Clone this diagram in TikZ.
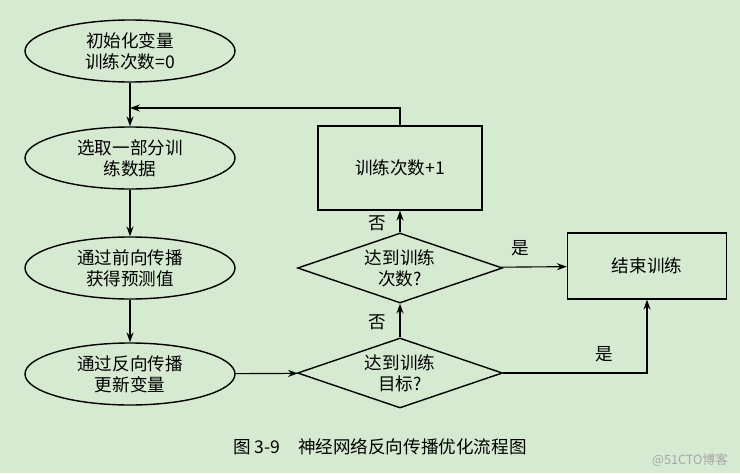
\documentclass[tikz,border=0pt]{standalone}
\usepackage{fontspec}
\setmainfont{Noto Sans CJK SC}
\usetikzlibrary{shapes.geometric,arrows.meta}
\definecolor{paper}{RGB}{214,234,210}
\tikzset{
  box/.style={draw,line width=1pt,minimum width=164*0.025cm,minimum height=84*0.025cm,align=center},
  oval/.style={ellipse,draw,line width=1pt,minimum width=210*0.025cm,minimum height=62*0.025cm,align=center,inner sep=0pt},
  test/.style={diamond,draw,line width=1pt,aspect=2.9,minimum width=205*0.025cm,minimum height=70*0.025cm,align=center,inner sep=0pt},
  flow/.style={-{Stealth[length=7pt,width=5pt]},line width=0.8pt}
}
\begin{document}
\begin{tikzpicture}[x=0.025cm,y=-0.025cm,font=\fontsize{12.5}{15}\selectfont]
\fill[paper] (0,0) rectangle (740,473);
\useasboundingbox (0,0) rectangle (740,473);
% ovals on the left
\node[oval] (init) at (130,51) {初始化变量\\训练次数=0};
\node[oval] (pick) at (130,158) {选取一部分训\\练数据};
\node[oval] (fwd) at (130,268) {通过前向传播\\获得预测值};
\node[oval] (bwd) at (130,374) {通过反向传播\\更新变量};
% tests and boxes
\node[box] (cnt) at (400,168) {训练次数+1};
\node[test] (t1) at (400,268) {达到训练\\次数?};
\node[test] (t2) at (400,373) {达到训练\\目标?};
\node[box,minimum width=159*0.025cm,minimum height=66*0.025cm] (stop) at (647,266) {结束训练};
\coordinate (back) at (130,108);
% connectors
\draw[flow] (init) -- (pick);
\draw[flow] (pick) -- (fwd);
\draw[flow] (fwd) -- (bwd);
\draw[flow] (bwd) -- (t2);
\draw[flow] (t2) -- node[left=6pt,pos=0.45] {否} (t1);
\draw[flow] (t1) -- node[left=6pt,pos=0.4] {否} (cnt);
\draw[flow] (cnt.north) |- (back);
\draw[flow] (t1) -- node[above=4pt,pos=0.3] {是} (stop);
\draw[flow] (t2.east) -| node[above=4pt,pos=0.35] {是} (stop.south);
\node (cap) at (380,447) {图 3-9\quad 神经网络反向传播优化流程图};
\node[text=gray!70,font=\fontsize{9}{11}\selectfont] (mark) at (690,460) {@51CTO博客};
\end{tikzpicture}
\end{document}
